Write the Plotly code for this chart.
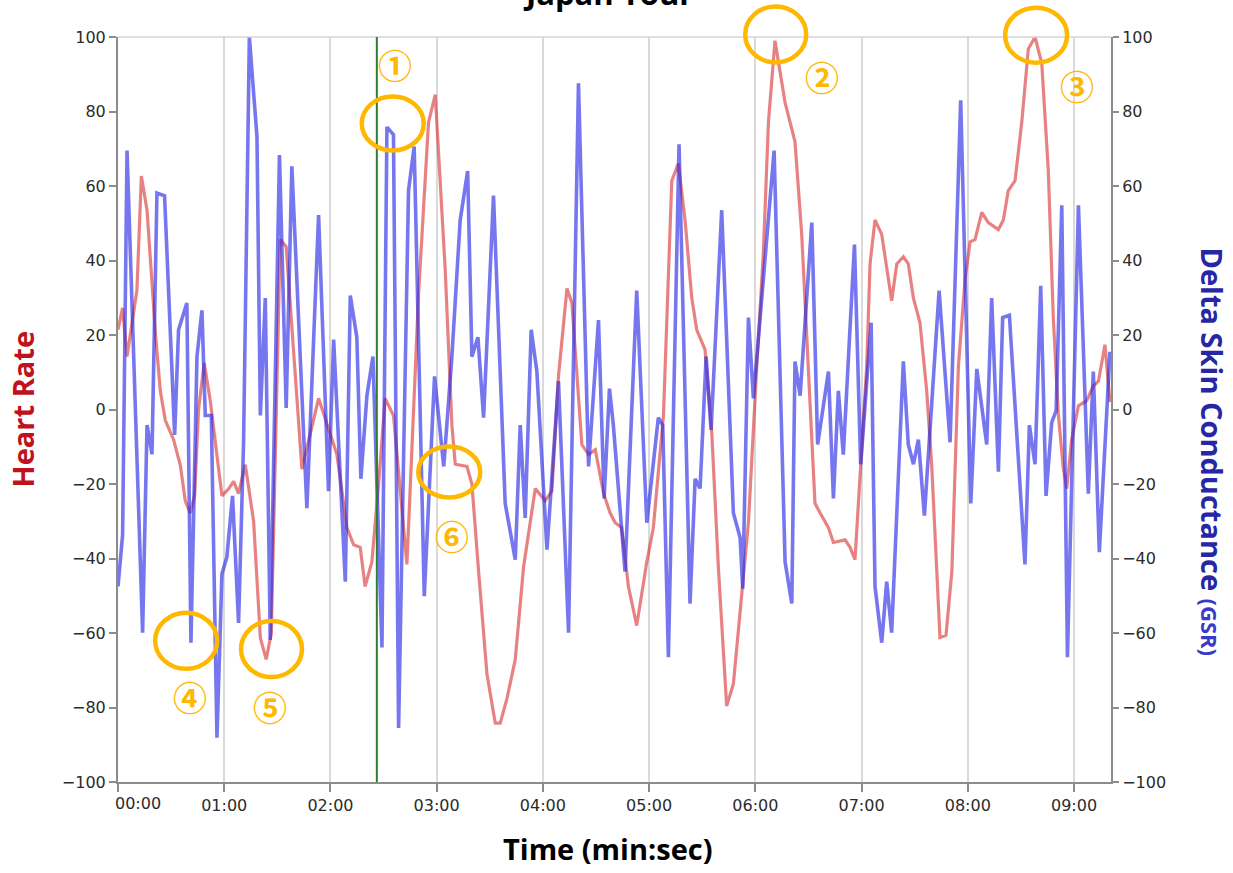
import plotly.graph_objects as go

# ---------------- data ----------------
# Heart rate series: time (s) and value
hr_t = [0, 2.6, 5.1, 10.7, 13.2, 16.4, 21.1, 23.9, 26.7, 31.4, 35.2, 38.0, 40.8, 43.3, 45.5,
        48.7, 52.1, 55.9, 58.7, 62.5, 65.3, 68.1, 71.9, 76.6, 80.4, 83.7, 86.6, 91.6, 95.0,
        103.9, 113.3, 123.6, 129.3, 133.1, 136.8, 139.6, 143.4, 147.2, 150.9, 155.6, 163.2,
        169.8, 175.4, 179.2, 184.8, 188.6, 190.5, 197.1, 199.9, 203.7, 208.4, 213.1, 215.9,
        219.7, 224.4, 229.1, 235.7, 241.3, 245.1, 248.8, 253.6, 256.4, 262.0, 265.8, 269.6,
        274.3, 278.0, 280.8, 284.5, 288.3, 293.0, 298.7, 302.4, 308.1, 312.8, 316.5, 320.3,
        324.1, 326.9, 331.6, 335.4, 339.1, 343.8, 347.6, 352.3, 356.1, 360.8, 364.5, 367.4,
        371.1, 376.8, 382.4, 386.2, 390.0, 393.7, 396.6, 401.3, 404.1, 410.7, 413.5, 416.3,
        422.9, 424.8, 427.6, 431.4, 437.0, 439.9, 443.6, 446.4, 449.3, 453.0, 456.8, 459.6,
        464.3, 467.7, 471.0, 474.7, 478.5, 481.3, 484.1, 487.9, 491.6, 497.3, 500.1, 502.9,
        506.7, 510.5, 514.2, 518.0, 521.8, 525.5, 528.3, 531.2, 534.0, 535.9, 538.7, 542.5,
        547.2, 550.9, 553.8, 557.5, 560.3]
hr_v = [21.4, 27.3, 14.2, 32.0, 62.7, 53.5, 20.7, 5.0, -2.9, -8.1, -15.0, -24.5, -27.8, -23.0, 0,
        12.5, 2.4, -12, -23.2, -21.3, -19.3, -22.6, -14.8, -30, -61.3, -67.1, -60, 45.6, 43.7,
        -16, 3.0, -12, -31.7, -36.3, -37, -47.5, -40.9, -20, 3.0, -1.6, -41.6,
        31.2, 77.1, 84.5, 37.8, -4.2, -14.7, -15.3, -20, -43.5, -71, -84.2, -84.2,
        -77.6, -67.1, -42.2, -21.2, -24.5, -21.9, 8.9, 32.5, 28.6, -9.4, -12.1, -10.8,
        -22.6, -27.8, -30.4, -31.7, -47.5, -58, -40.9, -31.7, -1.6, 61.4, 66.0, 50.9,
        29.9, 21.4, 16.1, -6.2, -42.2, -79.6, -73.7, -48.8, -30.4, 11.5, 41.7, 77.1,
        99.0, 82.4, 71.9, 47, 11.5, -25.2, -27.8, -31.7, -35.7, -35, -37, -40.3,
        11.5, 39.1, 50.9, 47, 29.2, 39.1, 41, 39.1, 29.9, 23.3, 5, -14.7,
        -61.2, -60.6, -43.5, 11.5, 35.1, 45, 45.6, 52.9, 50.2, 48.3, 50.9, 58.8,
        61.4, 77.1, 96.8, 100, 92.9, 64, 24.7, -1.6, -16, -21.2, -8.1, 1,
        2.4, 6.3, 7.6, 17.4, 2]

# Delta skin conductance (GSR) series: time (s) and value
gsr_t = [0, 2.6, 5.1, 13.9, 16.4, 19.2, 22.0, 26.3, 32.0, 34.2, 38.9, 41.2, 44.6, 47.4, 49.3,
         52.7, 55.9, 58.7, 61.5, 64.7, 68.1, 70.9, 74.2, 78.5, 80.4, 83.2, 86.0, 91.2, 95.0,
         98.2, 106.7, 113.3, 118.9, 121.8, 128.4, 131.2, 134.9, 137.2, 140.6, 144.0, 149.1,
         151.9, 155.6, 158.5, 164.1, 167.3, 173.0, 178.8, 184.0, 188.6, 193.3, 197.5, 199.9,
         203.3, 206.5, 212.1, 218.7, 224.4, 227.2, 230.0, 233.4, 236.6, 242.3, 248.8, 254.5,
         260.1, 265.8, 271.4, 274.6, 277.6, 279.8, 286.4, 293.0, 298.7, 305.2, 307.7, 310.9,
         316.9, 323.1, 326.0, 328.8, 332.2, 335.0, 341.0, 347.6, 351.4, 352.9, 356.1, 358.9,
         370.6, 376.8, 380.6, 382.4, 385.3, 391.9, 395.2, 401.3, 404.1, 406.9, 409.7, 416.0,
         419.5, 425.4, 427.6, 431.4, 434.2, 437.0, 443.6, 446.4, 449.3, 452.1, 455.5, 463.8,
         470.0, 476.0, 481.7, 485.1, 490.7, 493.5, 497.3, 499.7, 503.5, 512.3, 514.8, 518.0,
         521.2, 524.2, 527.4, 529.9, 533.1, 536.3, 542.5, 548.1, 550.9, 554.3, 560.3]
gsr_v = [-47.5, -33.7, 69.5, -59.9, -4.2, -12.0, 58.1, 57.4, -6.8, 21.4, 28.6, -62.6, 14.2, 26.6, -1.6,
         -1.6, -88.1, -44.2, -39.6, -23.2, -57.3, -9.4, 100, 73.2, -1.6, 29.9, -61.9, 68.3, 0.4,
         65.3, -26.5, 52.2, -21.9, 18.8, -46.2, 30.6, 19.4, -18.6, 3.7, 14.2, -63.9,
         75.8, 73.8, -85.5, 58.8, 70.6, -50.1, 8.9, -15.3, 14.2, 50.9, 64.0, 14.2,
         19.4, -2.2, 57.4, -25.2, -40.3, -4.2, -29.1, 21.4, 10.2, -37.6, 7.6, -59.9,
         87.6, -15.3, 24.0, -23.9, 5.6, -4.2, -43.5, 31.9, -30.4, -2.2, -4.2, -66.5,
         71.2, -52.1, -18.6, -21.2, 14.2, -5.5, 53.5, -27.8, -34.4, -48.1, 24.7, 3.0,
         69.5, -40.9, -52.1, 12.9, 3.7, 50.2, -9.4, 10.2, -23.9, 5.0, -12.1, 44.3,
         -14.7, 23.3, -47.5, -62.6, -46.2, -59.9, 12.9, -9.4, -14.7, -8.1, -28.5, 31.9,
         -8.8, 83.0, -25.2, 10.9, -9.4, 29.9, -16.7, 24.7, 25.3, -41.6, -4.2, -14.7,
         33.2, -23.2, -3.5, -0.3, 54.8, -66.5, 54.8, -22.6, 10.2, -38.3, 15.5]

# x ticks (seconds) and labels
tick_secs = [0, 60, 120, 180, 240, 300, 360, 420, 480, 540]
tick_labels = ["00:00", "01:00", "02:00", "03:00", "04:00", "05:00", "06:00", "07:00", "08:00", "09:00"]

# event marker (green line) time in seconds
event_t = 146.2

# numbered highlight circles: label, centre time (s), centre value
mark_labels = ["①", "②", "③", "④", "⑤", "⑥"]
mark_t = [155.2, 371.5, 518.6, 38.5, 86.7, 187.1]
mark_v = [76.8, 100.7, 100.5, -62.1, -64.3, -16.8]
# number label positions (time s, value)
num_t = [156.7, 397.8, 541.7, 40.4, 86.0, 188.8]
num_v = [92.5, 89.5, 87.1, -77.1, -79.8, -33.7]

# ---------------- figure ----------------
X_MAX = 560.9
Y_MIN, Y_MAX = -100, 100
ORANGE = "#FFB800"
AXIS_COL = "#8c8c8c"
TICK_FONT = dict(family="DejaVu Sans", size=16, color="#2b2b2b")

fig = go.Figure()
fig.add_trace(go.Scatter(x=hr_t, y=hr_v, mode="lines", name="Heart Rate",
                         line=dict(color="rgba(215,40,40,0.58)", width=3.2), yaxis="y"))
fig.add_trace(go.Scatter(x=gsr_t, y=gsr_v, mode="lines", name="GSR",
                         line=dict(color="rgba(40,40,230,0.64)", width=3.6), yaxis="y2"))

axis_common = dict(showline=True, linecolor=AXIS_COL, linewidth=2, ticks="outside",
                   tickcolor=AXIS_COL, tickwidth=1.5, zeroline=False, tickfont=TICK_FONT)

fig.update_layout(
    width=1233, height=873,
    margin=dict(l=118, r=122, t=37, b=91, pad=0),
    paper_bgcolor="white", plot_bgcolor="white",
    showlegend=False,
    xaxis=dict(range=[0, X_MAX], tickvals=tick_secs,
               ticktext=[""] + tick_labels[1:],
               showgrid=True, gridcolor="#dadada", gridwidth=1.5, ticklen=8,
               **axis_common),
    yaxis=dict(range=[Y_MIN, Y_MAX], dtick=20, showgrid=False, ticklen=7, **axis_common),
    yaxis2=dict(range=[Y_MIN, Y_MAX], dtick=20, showgrid=False, ticklen=6,
                overlaying="y", side="right", anchor="x", **axis_common),
)

# top border of plot area
fig.add_shape(type="line", xref="paper", yref="paper", x0=0, x1=1, y0=1, y1=1,
              line=dict(color="#d4d4d4", width=1.5))
# green event line
fig.add_shape(type="line", xref="x", yref="paper", x0=event_t, x1=event_t, y0=0, y1=1,
              line=dict(color="#2f7d2f", width=2))

# highlight ellipses (pixel-sized, anchored at data positions)
ell_w = [62, 61, 62, 62, 61, 62]
ell_h = [54, 56, 55, 56, 56, 51]
for t, v, w, h in zip(mark_t, mark_v, ell_w, ell_h):
    yfrac = (v - Y_MIN) / (Y_MAX - Y_MIN)
    fig.add_shape(type="circle", xref="x", yref="paper",
                  xsizemode="pixel", ysizemode="pixel",
                  xanchor=t, yanchor=yfrac,
                  x0=-w / 2, x1=w / 2, y0=-h / 2, y1=h / 2,
                  line=dict(color=ORANGE, width=4.5), layer="above")

for lab, t, v in zip(mark_labels, num_t, num_v):
    fig.add_annotation(x=t, y=v, xref="x", yref="y", text="<b>" + lab + "</b>", showarrow=False,
                       font=dict(family="Noto Sans CJK JP", size=34, color=ORANGE),
                       xanchor="center", yanchor="middle")

# first tick label (shifted right as in the original)
fig.add_annotation(x=tick_secs[0], y=0, xref="x", yref="paper", text=tick_labels[0],
                   showarrow=False, xanchor="center", yanchor="top", xshift=20, yshift=-10,
                   font=TICK_FONT)

TITLE_FONT = "Open Sans"
# chart title (cut off at the top as in the original)
fig.add_annotation(x=0.4935, y=1, xref="paper", yref="paper", text="<b>Japan Tour</b>",
                   showarrow=False, xanchor="center", yanchor="bottom", yshift=21,
                   font=dict(family=TITLE_FONT, size=31, color="black"))
# x-axis title
fig.add_annotation(x=0.4935, y=0, xref="paper", yref="paper", text="<b>Time (min:sec)</b>",
                   showarrow=False, xanchor="center", yanchor="middle", yshift=-66,
                   font=dict(family=TITLE_FONT, size=29, color="black"))
# left y title
fig.add_annotation(x=0, y=0.5, xref="paper", yref="paper", text="<b>Heart Rate</b>",
                   showarrow=False, xanchor="center", yanchor="middle", xshift=-96,
                   textangle=-90,
                   font=dict(family=TITLE_FONT, size=29, color="#c0121c"))
# right y title
fig.add_annotation(x=1, y=0.4436, xref="paper", yref="paper",
                   text="<b>Delta Skin Conductance</b> <span style='font-size:22px;color:#3a3ac8'><b>(GSR)</b></span>",
                   showarrow=False, xanchor="center", yanchor="middle", xshift=101,
                   textangle=90,
                   font=dict(family=TITLE_FONT, size=29, color="#2626a6"))

fig.write_html("out.html", config={"displayModeBar": False},
               post_script="document.body.style.margin='0px';document.body.style.overflow='hidden';")
